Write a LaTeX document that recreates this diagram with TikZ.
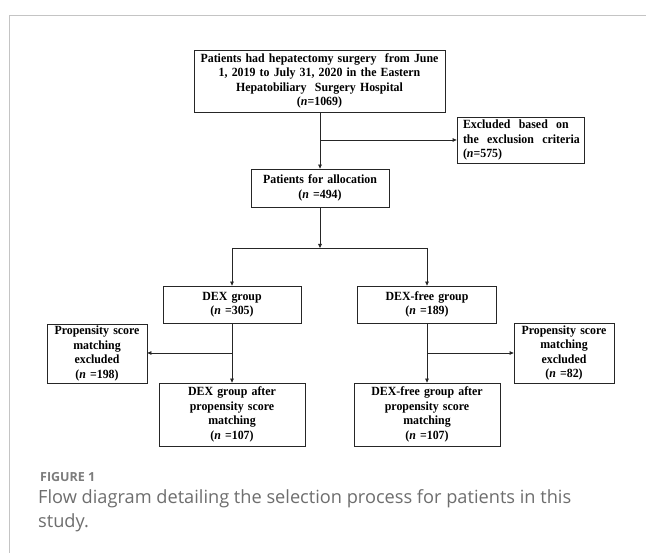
\documentclass[tikz,border=0pt]{standalone}
\usepackage{fontspec}
\setmainfont{Liberation Serif}
\newfontfamily\boxfont[FakeStretch=0.95]{Liberation Serif}
\newfontfamily\capfont{Open Sans}
\usetikzlibrary{arrows.meta}
\definecolor{framegray}{HTML}{C4C4C4}
\definecolor{capgray}{HTML}{6E6E6E}
\definecolor{figgray}{HTML}{7C7C7C}
\begin{document}
\begin{tikzpicture}[x=1pt,y=-1pt,
  flowbox/.style={draw=black!85,line width=0.8pt,inner xsep=0pt,inner ysep=0pt,
    align=center,font=\boxfont\bfseries\fontsize{12.5}{14.5}\selectfont},
  conn/.style={line width=0.8pt,black!85},
  arr/.style={conn,-{Triangle[length=4pt,width=3.6pt]}}]
\useasboundingbox (0,0) rectangle (646,553);
\fill[white] (0,0) rectangle (646,553);
% frame
\draw[framegray,line width=1pt] (646,15.5) -- (9.5,15.5) -- (9.5,553);
% nodes
\node[flowbox,text width=251pt,minimum height=62pt] (top) at (319.5,81)
  {Patients had hepatectomy surgery~ from June\\1, 2019 to July 31, 2020 in the Eastern\\Hepatobiliary~ Surgery Hospital\\(\textit{n}=1069)};
\node[flowbox,text width=127pt,minimum height=46pt,align=left,inner xsep=0pt] (excl) at (520.5,140)
  {\hspace*{6pt}Excluded~ based~ on\\\hspace*{6pt}the~ exclusion~ criteria\\\hspace*{6pt}(\textit{n}=575)};
\node[flowbox,text width=138pt,minimum height=38pt] (alloc) at (320,188)
  {Patients for allocation\\(\textit{n} =494)};
\node[flowbox,text width=138pt,minimum height=37pt] (dex) at (232,304.5)
  {DEX group\\(\textit{n} =305)};
\node[flowbox,text width=139pt,minimum height=37pt] (dexfree) at (427,304.5)
  {DEX-free group\\(\textit{n} =189)};
\node[flowbox,text width=100pt,minimum height=59pt] (psmL) at (97,353.5)
  {Propensity score\\matching\\excluded\\(\textit{n} =198)};
\node[flowbox,text width=100pt,minimum height=60pt] (psmR) at (564,353)
  {Propensity score\\matching\\excluded\\(\textit{n} =82)};
\node[flowbox,text width=146pt,minimum height=63pt] (dexafter) at (232,414.5)
  {DEX group after\\propensity score\\matching\\(\textit{n} =107)};
\node[flowbox,text width=146pt,minimum height=63pt] (dexfreeafter) at (427,414.5)
  {DEX-free group after\\propensity score\\matching\\(\textit{n} =107)};
% junction coordinates
\coordinate (j1) at (320,140);
\coordinate (split) at (320,248);
\coordinate (sL) at (232,248);
\coordinate (sR) at (427,248);
\coordinate (jL) at (232,353);
\coordinate (jR) at (427,353);
% connectors
\draw[arr] (top.south -| alloc.north) -- (alloc.north);
\draw[arr] (j1) -- (excl.west |- j1);
\draw[arr] (alloc.south) -- (split);
\draw[conn] (sL) -- (sR);
\draw[arr] (sL) -- (dex.north);
\draw[arr] (sR) -- (dexfree.north);
\draw[arr] (dex.south) -- (dexafter.north);
\draw[arr] (dexfree.south) -- (dexfreeafter.north);
\draw[arr] (jL) -- (psmL.east |- jL);
\draw[arr] (jR) -- (psmR.west |- jR);
% caption
\node[anchor=base west,inner sep=0pt,text=figgray,font=\capfont\bfseries\fontsize{12.5}{15}\selectfont] (fig) at (40,482) {FIGURE 1};
\node[anchor=base west,inner sep=0pt,text=capgray,font=\capfont\fontsize{18.2}{24}\selectfont,align=left] (cap) at (38,527)
  {Flow diagram detailing the selection process for patients in this\\study.};
\end{tikzpicture}
\end{document}
